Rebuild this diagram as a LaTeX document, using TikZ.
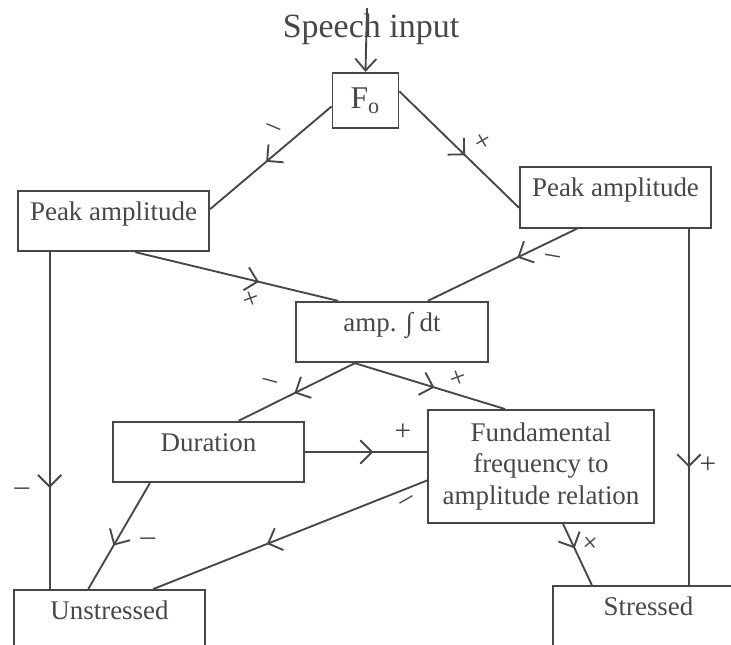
\documentclass[tikz,border=0pt]{standalone}
\usepackage{fontspec}
\setmainfont{Liberation Serif}
\usetikzlibrary{arrows.meta, decorations.markings}
\newlength{\boxwidth}
\setlength{\boxwidth}{2.87cm}
\colorlet{ink}{black!72}
\tikzset{stage/.style = {shape=rectangle,draw,inner sep=0pt,minimum width=\boxwidth,text height=12.6pt,text depth=13.2pt,font=\fontsize{11.5}{13.5}\selectfont}}
\tikzset{sign/.style = {inner sep=0pt,font=\fontsize{12.5}{12.5}\selectfont}}
\tikzset{edge/.style = {postaction={decorate},decoration={markings,mark=at position #1 with {\arrow{Straight Barb[length=5pt,width=10pt]}}}}}

\begin{document}
\begin{tikzpicture}[x=0.015cm,y=-0.015cm,ink,line width=0.8pt]
  \clip (0,0) rectangle (731,645);
  % boxes
  \node[anchor=base,font=\fontsize{14.5}{14.5}\selectfont] (speech) at (371,37) {Speech input};
  \coordinate (feed) at (367,8);
  \node[draw,inner sep=0pt,minimum width=0.99cm,minimum height=0.83cm,font=\fontsize{13.5}{13.5}\selectfont] (f0) at (365.5,100.5) {F\textsubscript{o}};
  \node[stage] (lpeak) at (113.5,221) {Peak amplitude};
  \node[stage] (rpeak) at (615.5,197.5) {Peak amplitude};
  \node[stage] (amp) at (392,332) {amp. ∫ dt};
  \node[stage] (dur) at (208.5,452) {Duration};
  \node[stage,minimum width=3.39cm,minimum height=1.695cm,text height=,text depth=,align=center] (fund) at (541,466.5) {Fundamental\\frequency to\\amplitude relation};
  \node[stage,anchor=north,text depth=18pt] (unstr) at (109.5,589) {Unstressed};
  \node[stage,anchor=north,text depth=18pt] (str) at (648.5,585) {Stressed};
  % connectors
  \draw[-{Straight Barb[length=5pt,width=9pt]}] (feed) -- (f0.north);
  \draw[edge=0.54] (f0.190) -- (lpeak.7);
  \draw[edge=0.55] (f0.15) -- (rpeak.186);
  \draw[edge=0.40] (rpeak.219) -- (amp.41);
  \draw[edge=0.61] (lpeak.-55) -- (amp.150);
  \draw[edge=0.52] (amp.220) -- (dur.46);
  \draw[edge=0.53] (amp.220) -- (fund.122);
  \draw[edge=0.56] (dur.east) -- (dur.east -| fund.west);
  \draw[edge=0.585] (fund.187) -- (unstr.40);
  \draw[edge=0.59] (dur.208) -- (unstr.120);
  \draw[edge=0.70] (lpeak.206) -- (lpeak.206 |- unstr.north);
  \draw[edge=0.67] (rpeak.-23) -- (rpeak.-23 |- str.north);
  \draw[edge=0.40] (fund.-69) -- (str.147);
  % signs
  \node[sign,rotate=-23] (m1) at (273,130) {--};
  \node[sign,rotate=30] (m2) at (484,142) {+};
  \node[sign,rotate=-10] (m3) at (552,259) {--};
  \node[sign,rotate=20] (m4) at (251,300) {+};
  \node[sign,rotate=-15] (m5) at (270,384) {--};
  \node[sign,rotate=20] (m6) at (458,379) {+};
  \node[sign] (m7) at (403,432) {+};
  \node[sign,rotate=30] (m8) at (408,503) {--};
  \node[sign] (m9) at (148,542) {--};
  \node[sign] (m10) at (22,492) {--};
  \node[sign] (m11) at (708,465) {+};
  \node[sign,rotate=40] (m12) at (592,544) {+};
\end{tikzpicture}
\end{document}
